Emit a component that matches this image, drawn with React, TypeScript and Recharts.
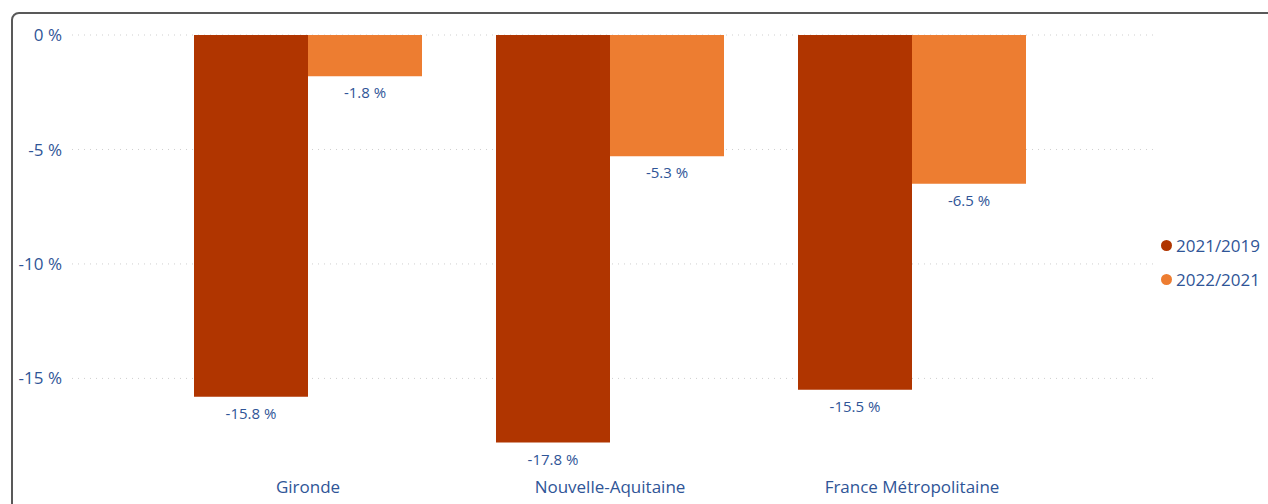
import { BarChart, Bar, XAxis, YAxis, CartesianGrid, Legend, LabelList } from 'recharts';

const categories = ['Gironde', 'Nouvelle-Aquitaine', 'France Métropolitaine'];
const evol2021vs2019 = [-15.8, -17.8, -15.5];
const evol2022vs2021 = [-1.8, -5.3, -6.5];
const yTicks = [0, -5, -10, -15];

const SERIES = [
  { key: 'v2021', name: '2021/2019', color: '#B03500' },
  { key: 'v2022', name: '2022/2021', color: '#ED7D31' },
];

const BLUE = '#2F5597';
const FONT = '"Open Sans", "Noto Sans", sans-serif';

const data = categories.map((c, i) => ({
  name: c,
  v2021: evol2021vs2019[i],
  v2022: evol2022vs2021[i],
}));

const fmt = (v: number) => `${v.toFixed(1)} %`;

// label centred under the end of the bar, whatever the sign of the height
function BarValueLabel(props: any) {
  const { x, y, width, height, value } = props;
  const bottom = Math.max(y, y + height);
  return (
    <text
      x={x + width / 2}
      y={bottom + 16}
      textAnchor="middle"
      dominantBaseline="central"
      fill={BLUE}
      fontSize={15}
      fontFamily={FONT}
    >
      {fmt(value)}
    </text>
  );
}

function SideLegend() {
  return (
    <div style={{ fontFamily: FONT, fontSize: 17, color: BLUE }}>
      {SERIES.map(s => (
        <div key={s.key} style={{ display: 'flex', alignItems: 'center', height: 34 }}>
          <span
            style={{
              width: 11,
              height: 11,
              borderRadius: 6,
              background: s.color,
              display: 'inline-block',
              marginRight: 4,
            }}
          />
          {s.name}
        </div>
      ))}
    </div>
  );
}

export default function App() {
  return (
    <div
      style={{
        position: 'fixed',
        left: 0,
        top: 0,
        width: 1268,
        height: 504,
        overflow: 'hidden',
        background: '#fff',
      }}
    >
      <div
        style={{
          position: 'absolute',
          left: 11,
          top: 12,
          width: 1320,
          height: 600,
          border: '2px solid #595959',
          borderRadius: 8,
          boxSizing: 'border-box',
        }}
      />
      <div style={{ position: 'absolute', left: 0, top: 0 }}>
        <BarChart
          width={1268}
          height={504}
          data={data}
          margin={{ top: 35, right: 113, bottom: 4, left: 0 }}
          barGap={0}
          barSize={114}
        >
          <CartesianGrid
            vertical={false}
            horizontalValues={yTicks}
            stroke="#cfcfcf"
            strokeDasharray="1 5"
          />
          <XAxis
            dataKey="name"
            axisLine={false}
            tickLine={false}
            tickSize={0}
            tickMargin={11}
            height={30}
            padding={{ left: 85, right: 92 }}
            tick={{ fill: BLUE, fontSize: 17, fontFamily: FONT }}
            interval={0}
          />
          <YAxis
            domain={[-19, 0]}
            ticks={yTicks}
            axisLine={false}
            tickLine={false}
            tickSize={0}
            tickMargin={10}
            width={72}
            tickFormatter={(v: number) => `${v} %`}
            tick={{ fill: BLUE, fontSize: 17, fontFamily: FONT }}
          />
          <Legend
            layout="vertical"
            align="center"
            verticalAlign="middle"
            content={() => <SideLegend />}
            wrapperStyle={{ left: 1161, top: 228, width: 110 }}
          />
          {SERIES.map(s => (
            <Bar key={s.key} dataKey={s.key} name={s.name} fill={s.color} isAnimationActive={false}>
              <LabelList dataKey={s.key} content={BarValueLabel} />
            </Bar>
          ))}
        </BarChart>
      </div>
    </div>
  );
}
